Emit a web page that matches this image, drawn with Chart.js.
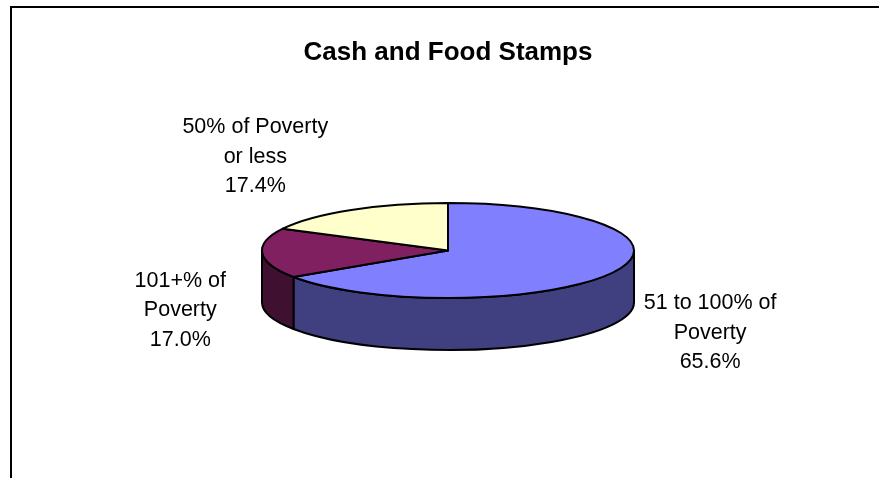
<!DOCTYPE html>
<html>
<head>
<meta charset="utf-8">
<title>Cash and Food Stamps</title>
<script src="https://cdn.jsdelivr.net/npm/chart.js@4/dist/chart.umd.min.js"></script>
<style>
  html, body { margin: 0; padding: 0; background: #fff; }
  #wrap { position: relative; width: 879px; height: 478px; }
</style>
</head>
<body>
<div id="wrap"><canvas id="c" width="879" height="478"></canvas></div>
<script>
// Poverty-level groups (label lines) and their shares, in percent
const categories = [
  ['51 to 100% of', 'Poverty'],
  ['101+% of', 'Poverty'],
  ['50% of Poverty', 'or less']
];
const shares = [65.6, 17.0, 17.4];
const sliceColors = ['#8080FF', '#802060', '#FFFFCC'];

// Look of the tilted pie
const PIE_RADIUS = 186;      // horizontal radius of the top face
const TILT = 47.5 / 186;     // vertical squash of the top face
const DEPTH = 52;            // height of the side wall
const EDGE = 2;
const LABEL_FONT = '21.5px "Liberation Sans", Arial, sans-serif';
const LABEL_LINE = 29.5;
// where each label block sits, relative to its slice's rim midpoint
const labelShift = [[98, 60], [-82, 57], [-96, -53]];

function shade(hex, f) {
  const n = parseInt(hex.slice(1), 16);
  const r = Math.round(((n >> 16) & 255) * f);
  const g = Math.round(((n >> 8) & 255) * f);
  const b = Math.round((n & 255) * f);
  return 'rgb(' + r + ',' + g + ',' + b + ')';
}

// front-facing parts of an angle span (canvas angles, y pointing down)
function frontParts(a1, a2) {
  const out = [];
  for (let k = -1; k <= 1; k++) {
    const lo = Math.max(a1, 2 * Math.PI * k);
    const hi = Math.min(a2, 2 * Math.PI * k + Math.PI);
    if (hi > lo) out.push([lo, hi]);
  }
  return out;
}

const framePlugin = {
  id: 'frame',
  beforeDraw(chart) {
    const ctx = chart.ctx;
    ctx.save();
    ctx.strokeStyle = '#000';
    ctx.lineWidth = 2;
    ctx.beginPath();
    ctx.moveTo(11, chart.height);
    ctx.lineTo(11, 7);
    ctx.lineTo(chart.width, 7);
    ctx.stroke();
    ctx.restore();
  }
};

const tiltedPie = {
  id: 'tiltedPie',
  beforeDatasetsDraw(chart) {
    const ctx = chart.ctx;
    const meta = chart.getDatasetMeta(0);
    const arcs = meta.data;
    ctx.save();
    ctx.lineWidth = EDGE;
    ctx.strokeStyle = '#000';
    ctx.lineJoin = 'round';

    // side walls first
    arcs.forEach((arc) => {
      const cx = arc.x, cy = arc.y, R = arc.outerRadius, ry = R * TILT;
      frontParts(arc.startAngle, arc.endAngle).forEach(([a1, a2]) => {
        ctx.beginPath();
        ctx.ellipse(cx, cy, R, ry, 0, a1, a2, false);
        ctx.lineTo(cx + R * Math.cos(a2), cy + DEPTH + ry * Math.sin(a2));
        ctx.ellipse(cx, cy + DEPTH, R, ry, 0, a2, a1, true);
        ctx.closePath();
        ctx.fillStyle = shade(arc.options.backgroundColor, 0.5);
        ctx.fill();
        ctx.stroke();
      });
    });

    // top face
    arcs.forEach((arc) => {
      const cx = arc.x, cy = arc.y, R = arc.outerRadius, ry = R * TILT;
      ctx.beginPath();
      ctx.moveTo(cx, cy);
      ctx.ellipse(cx, cy, R, ry, 0, arc.startAngle, arc.endAngle, false);
      ctx.closePath();
      ctx.fillStyle = arc.options.backgroundColor;
      ctx.fill();
      ctx.stroke();
    });

    // labels: category lines plus the share
    ctx.fillStyle = '#000';
    ctx.font = LABEL_FONT;
    ctx.textAlign = 'center';
    ctx.textBaseline = 'middle';
    arcs.forEach((arc, i) => {
      const cx = arc.x, cy = arc.y, R = arc.outerRadius, ry = R * TILT;
      const mid = (arc.startAngle + arc.endAngle) / 2;
      const px = cx + R * Math.cos(mid) + labelShift[i][0];
      const py = cy + ry * Math.sin(mid) + labelShift[i][1];
      const lines = chart.data.labels[i].concat([shares[i].toFixed(1) + '%']);
      const top = py - (lines.length - 1) / 2 * LABEL_LINE;
      lines.forEach((t, j) => ctx.fillText(t, px, top + j * LABEL_LINE));
    });

    ctx.restore();
    return false;
  }
};

new Chart(document.getElementById('c'), {
  type: 'pie',
  data: {
    labels: categories,
    datasets: [{
      data: shares,
      backgroundColor: sliceColors,
      borderColor: '#000',
      borderWidth: 0,
      radius: PIE_RADIUS
    }]
  },
  options: {
    responsive: false,
    animation: false,
    events: [],
    layout: { padding: { left: 20, right: 3, top: 0, bottom: 45.6 } },
    plugins: {
      legend: { display: false },
      tooltip: { enabled: false },
      title: {
        display: true,
        text: 'Cash and Food Stamps',
        color: '#000',
        font: { family: '"Liberation Sans", Arial, sans-serif', size: 26, weight: 'bold', lineHeight: 1.2 },
        padding: { top: 37.4, bottom: 0 }
      }
    }
  },
  plugins: [framePlugin, tiltedPie]
});
</script>
</body>
</html>
